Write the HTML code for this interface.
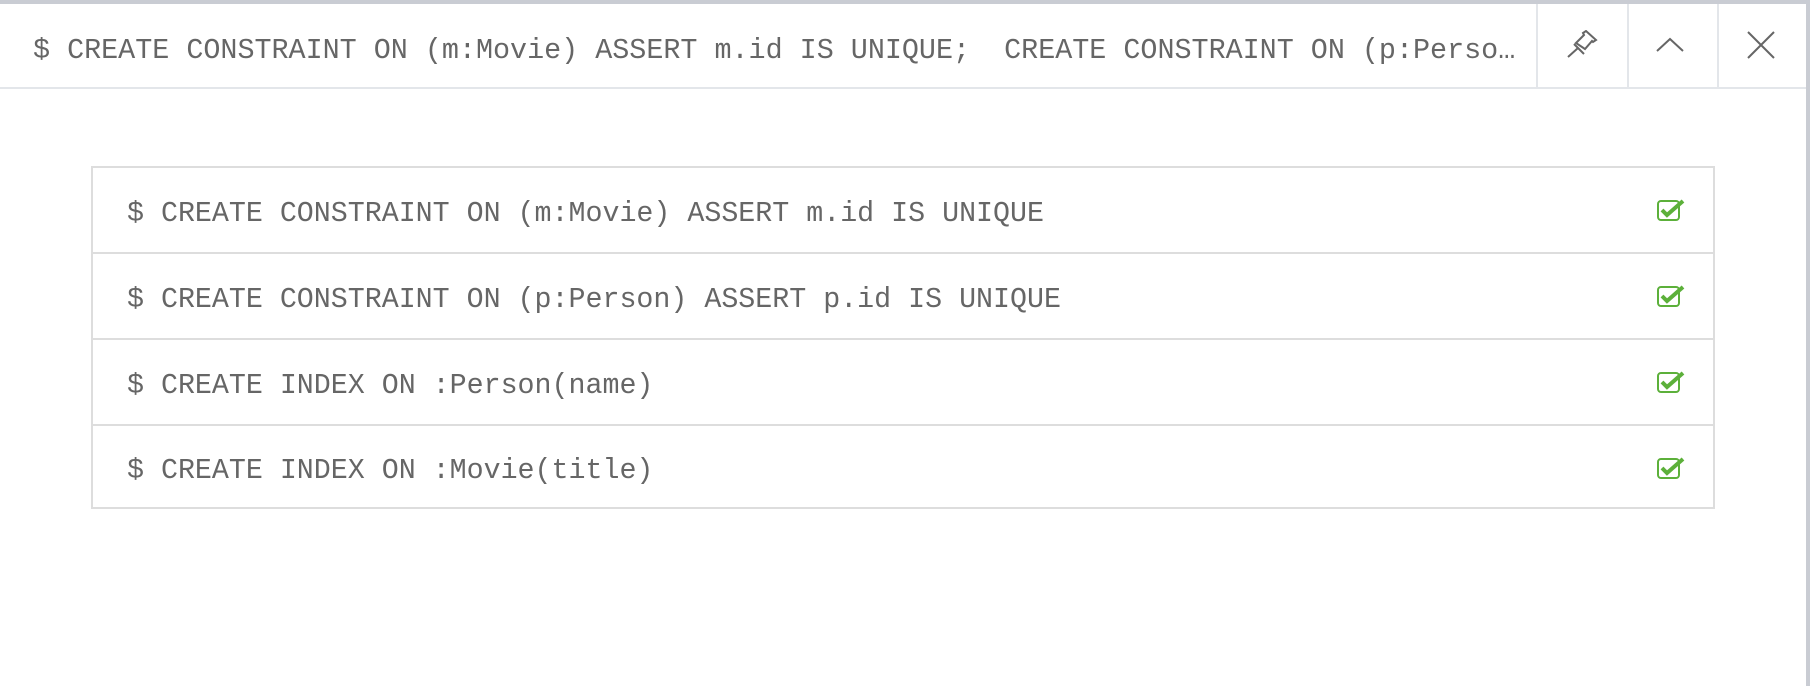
<!DOCTYPE html>
<html><head><style>
*{margin:0;padding:0;box-sizing:border-box}
body{width:1810px;height:686px;background:#fff;position:relative;overflow:hidden;font-family:"Liberation Mono",monospace;color:#666}
.top{position:absolute;left:0;top:0;width:1810px;height:4px;background:#c9ccd3}
.rb{position:absolute;right:0;top:0;width:4px;height:686px;background:#c9ccd3}
.hdr{position:absolute;left:0;top:4px;width:1806px;height:85px;border-bottom:2px solid #e3e6ea}
.ht{position:absolute;left:33px;top:5px;line-height:84px;font-size:28.4px;white-space:pre}
.div{position:absolute;top:4px;width:2px;height:84px;background:#e3e6ea}
.tbl{position:absolute;left:91px;top:166px;width:1624px;height:343px;border:2px solid #ddd}
.row{position:absolute;left:0;width:1620px;border-bottom:2px solid #ddd}
.row span{position:absolute;left:34px;font-size:28.3px;white-space:nowrap}
.chk{position:absolute;left:1564px}
</style></head><body>
<div class="top"></div><div class="rb"></div>
<div class="hdr"><div class="ht">$ CREATE CONSTRAINT ON (m:Movie) ASSERT m.id IS UNIQUE;  CREATE CONSTRAINT ON (p:Perso…</div></div>
<div class="div" style="left:1536px"></div>
<div class="div" style="left:1627px"></div>
<div class="div" style="left:1717px"></div>
<svg style="position:absolute;left:1566px;top:30px" width="32" height="30" viewBox="0 0 32 30" fill="none" stroke="#666" stroke-width="2"><path d="M2 27 L12 18 M8 14 L18 24 M10 13 L18 5 L17 3 L20 1 L30 10 L27 12 L26 11 L19 19 Z"/></svg>
<svg style="position:absolute;left:1656px;top:36px" width="28" height="16"><path d="M1 15 L14 3 L27 15" fill="none" stroke="#666" stroke-width="2"/></svg>
<svg style="position:absolute;left:1747px;top:31px" width="28" height="28"><path d="M1 1 L27 27 M27 1 L1 27" stroke="#666" stroke-width="2"/></svg>
<div class="tbl">
<div class="row" style="top:0;height:86px"><span style="top:30px">$ CREATE CONSTRAINT ON (m:Movie) ASSERT m.id IS UNIQUE</span></div>
<div class="row" style="top:86px;height:86px"><span style="top:30px">$ CREATE CONSTRAINT ON (p:Person) ASSERT p.id IS UNIQUE</span></div>
<div class="row" style="top:172px;height:86px"><span style="top:30px">$ CREATE INDEX ON :Person(name)</span></div>
<div class="row" style="top:258px;height:81px;border-bottom:none"><span style="top:29px">$ CREATE INDEX ON :Movie(title)</span></div>
<svg class="chk" style="top:30px" width="28" height="24" viewBox="0 0 28 24"><rect x="1" y="3" width="21" height="19" rx="3" fill="none" stroke="#5cb03a" stroke-width="2"/><path d="M5 12 L10 17 L26 3" fill="none" stroke="#5cb03a" stroke-width="4"/></svg>
<svg class="chk" style="top:116px" width="28" height="24" viewBox="0 0 28 24"><rect x="1" y="3" width="21" height="19" rx="3" fill="none" stroke="#5cb03a" stroke-width="2"/><path d="M5 12 L10 17 L26 3" fill="none" stroke="#5cb03a" stroke-width="4"/></svg>
<svg class="chk" style="top:202px" width="28" height="24" viewBox="0 0 28 24"><rect x="1" y="3" width="21" height="19" rx="3" fill="none" stroke="#5cb03a" stroke-width="2"/><path d="M5 12 L10 17 L26 3" fill="none" stroke="#5cb03a" stroke-width="4"/></svg>
<svg class="chk" style="top:288px" width="28" height="24" viewBox="0 0 28 24"><rect x="1" y="3" width="21" height="19" rx="3" fill="none" stroke="#5cb03a" stroke-width="2"/><path d="M5 12 L10 17 L26 3" fill="none" stroke="#5cb03a" stroke-width="4"/></svg>
</div>
</body></html>
